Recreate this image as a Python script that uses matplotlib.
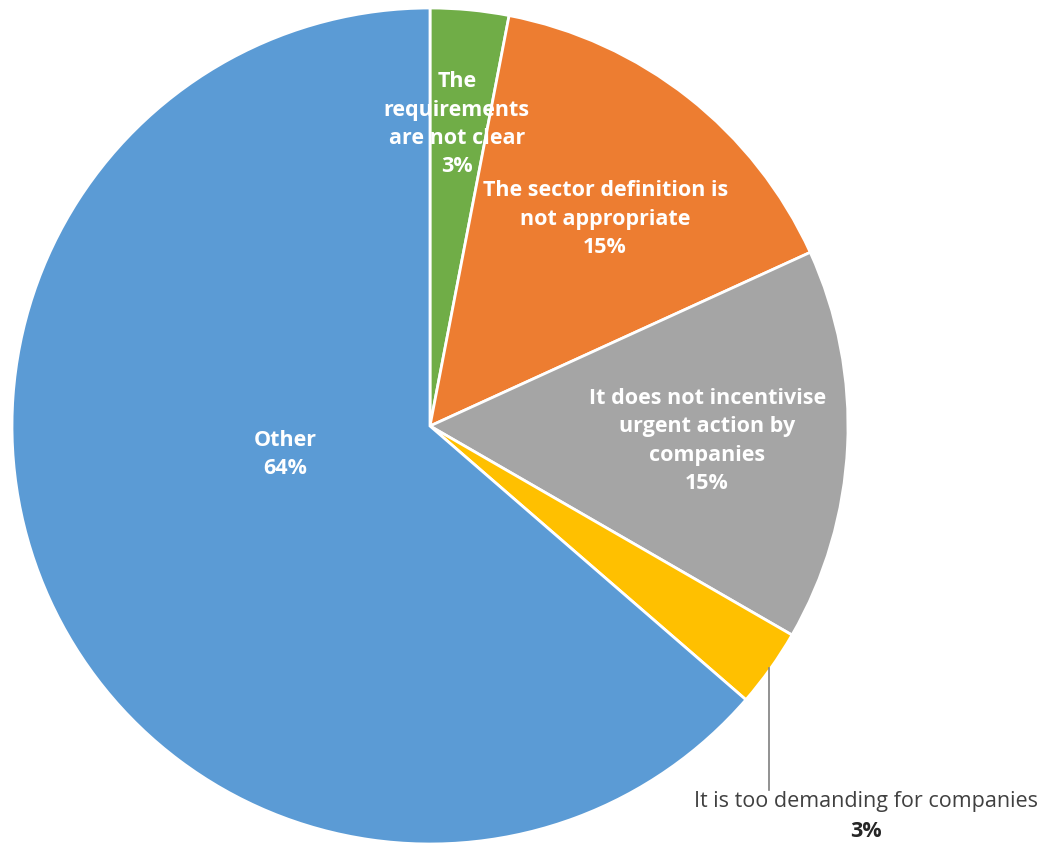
import matplotlib.pyplot as plt

plt.rcParams["font.family"] = ["Open Sans", "DejaVu Sans"]

# survey answers, clockwise from 12 o'clock
labels = [
    "The\nrequirements\nare not clear",
    "The sector definition is\nnot appropriate",
    "It does not incentivise\nurgent action by\ncompanies",
    "It is too demanding for companies",
    "Other",
]
counts = [1, 5, 5, 1, 21]
pct_labels = ["3%", "15%", "15%", "3%", "64%"]
colors = ["#70AD47", "#ED7D31", "#A5A5A5", "#FFC000", "#5B9BD5"]

W, H = 1046, 844
cx, cy, r = 430, 426, 418

fig = plt.figure(figsize=(W / 100, H / 100), dpi=100)
ax = fig.add_axes([(cx - r) / W, (H - cy - r) / H, 2 * r / W, 2 * r / H])

ax.pie(counts, colors=colors, startangle=90, counterclock=False, radius=1,
       wedgeprops=dict(edgecolor="white", linewidth=2))
ax.set_xlim(-1, 1)
ax.set_ylim(-1, 1)
ax.set_aspect("equal")
ax.axis("off")

# label positions inside slices (data units, radius = 1)
inside_pos = {0: (0.064, 0.722), 1: (0.419, 0.495), 2: (0.663, -0.036), 4: (-0.347, -0.069)}
for i, (x, y) in inside_pos.items():
    ax.text(x, y, labels[i] + "\n" + pct_labels[i], ha="center", va="center",
            color="white", fontsize=15.5, fontweight="bold", linespacing=1.45)

# outside label for the small yellow slice, with leader line
ax.plot([0.811, 0.811], [-0.579, -0.87], color="#7F7F7F", lw=1.2, clip_on=False)
ax.text(1.043, -0.899, labels[3], ha="center", va="center", color="#404040",
        fontsize=15.5)
ax.text(1.043, -0.97, pct_labels[3], ha="center", va="center", color="#262626",
        fontsize=15.5, fontweight="bold")

fig.savefig("out.png", dpi=100)
